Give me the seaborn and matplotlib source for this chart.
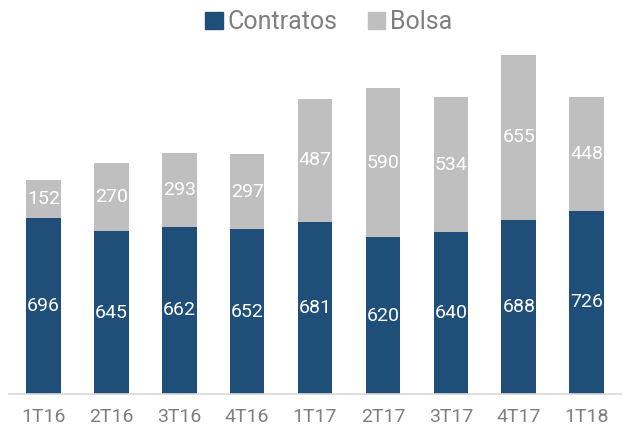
import matplotlib
matplotlib.use("Agg")
import matplotlib.pyplot as plt
import seaborn as sns
import pandas as pd
from matplotlib.patches import Patch

# Data
quarters = ["1T16", "2T16", "3T16", "4T16", "1T17", "2T17", "3T17", "4T17", "1T18"]
contratos = [696, 645, 662, 652, 681, 620, 640, 688, 726]
bolsa = [152, 270, 293, 297, 487, 590, 534, 655, 448]

BLUE = "#1F4E79"
GRAY = "#BFBFBF"
TEXT = "#7F7F7F"

sns.set_theme(style="white")
plt.rcParams["font.family"] = ["Roboto", "DejaVu Sans"]

df = pd.DataFrame({"quarter": quarters, "contratos": contratos, "bolsa": bolsa})
df["total"] = df["contratos"] + df["bolsa"]

fig = plt.figure(figsize=(6.32, 4.29), dpi=100)
ax = fig.add_axes([0.015, 1 - 394 / 429, 0.967, 350 / 429])

# stacked: draw totals in gray, then contratos over them
sns.barplot(data=df, x="quarter", y="total", color=GRAY, width=0.51,
            saturation=1, linewidth=0, edgecolor="none", ax=ax)
sns.barplot(data=df, x="quarter", y="contratos", color=BLUE, width=0.51,
            saturation=1, linewidth=0, edgecolor="none", ax=ax)

for i, (c, b) in enumerate(zip(contratos, bolsa)):
    ax.text(i, c / 2, str(c), ha="center", va="center", color="white", fontsize=14)
    ax.text(i, c + b / 2, str(b), ha="center", va="center", color="white", fontsize=14)

ax.set_ylim(0, 1385)
ax.set_xlim(-0.5, len(quarters) - 0.5)
ax.set_xlabel("")
ax.set_ylabel("")
ax.set_yticks([])
for s in ["top", "right", "left"]:
    ax.spines[s].set_visible(False)
ax.spines["bottom"].set_color("#D9D9D9")
ax.spines["bottom"].set_linewidth(1.2)
ax.tick_params(axis="x", length=0, pad=10, labelsize=14, labelcolor=TEXT)

handles = [Patch(color=BLUE, label="Contratos"), Patch(color=GRAY, label="Bolsa")]
fig.legend(handles=handles, loc="center", bbox_to_anchor=(0.52, 0.948), ncol=2,
           frameon=False, fontsize=18, labelcolor=TEXT, handlelength=0.7,
           handleheight=0.7, handletextpad=0.2, columnspacing=1.2)

fig.savefig("out.png", dpi=100)
